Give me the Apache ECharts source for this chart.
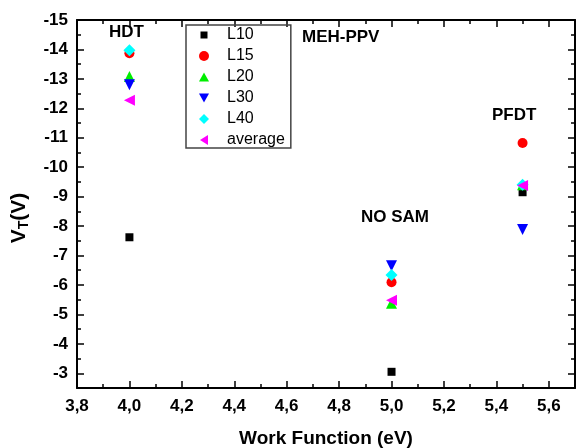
<!DOCTYPE html>
<html><head><meta charset="utf-8">
<script src="https://cdn.jsdelivr.net/npm/echarts@6/dist/echarts.min.js"></script>
<style>html,body{margin:0;padding:0;background:#fff}#c{width:576px;height:448px}</style>
</head><body><div id="c"></div>
<script>
const xValues = [4.0, 5.0, 5.5];
const seriesNames = ['L10', 'L15', 'L20', 'L30', 'L40', 'average'];
const L10 = [-7.62, -3.05, -9.15];
const L15 = [-13.87, -6.09, -10.82];
const L20 = [-13.08, -5.38, -9.4];
const L30 = [-12.8, -6.65, -7.88];
const L40 = [-13.97, -6.34, -9.4];
const average = [-12.27, -5.48, -9.38];
const groupLabels = ['HDT', 'NO SAM', 'PFDT', 'MEH-PPV'];

const values = [L10, L15, L20, L30, L40, average];
const styles = [
  {symbol: 'rect', size: 8, rot: 0, color: '#000000', icon: 'path://M0,0M10,10M1.5,1.5L8.5,1.5L8.5,8.5L1.5,8.5Z'},
  {symbol: 'circle', size: 10, rot: 0, color: '#ff0000', icon: 'circle'},
  {symbol: 'triangle', size: 11, rot: 0, color: '#00ee00', icon: 'path://M0,0M10,10M5,0.5L10,9.5L0,9.5Z'},
  {symbol: 'triangle', size: 11, rot: 180, color: '#0000ff', icon: 'path://M0,0M10,10M0,0.5L10,0.5L5,9.5Z'},
  {symbol: 'diamond', size: 12, rot: 0, color: '#00ffff', icon: 'diamond'},
  {symbol: 'triangle', size: 11, rot: 90, color: '#ff00ff', icon: 'path://M0,0M10,10M9,0L9,10L1,5Z'}
];
const font = 'Liberation Sans, Arial, sans-serif';
const chart = echarts.init(document.getElementById('c'));
const axisBase = {
  axisLine: {show: true, lineStyle: {color: '#000', width: 2}},
  axisTick: {show: true, inside: true, length: 7, lineStyle: {color: '#000', width: 1.5}},
  minorTick: {show: true, splitNumber: 2, length: 4, lineStyle: {color: '#000', width: 1.5}},
  splitLine: {show: false}
};
const textFont = 'bold 17px ' + font;
chart.setOption({
  animation: false,
  textStyle: {fontFamily: font},
  grid: {left: 77, right: 1, top: 20, bottom: 60, outerBoundsMode: 'none', containLabel: false},
  legend: {
    orient: 'vertical', left: 186, top: 25,
    data: seriesNames.map((n, i) => ({name: n, icon: styles[i].icon})),
    itemWidth: 10, itemHeight: 10, itemGap: 5,
    padding: [2, 6, 0, 13],
    borderColor: '#444', borderWidth: 1.5,
    textStyle: {fontSize: 16, color: '#000', fontFamily: font, padding: [0, 0, 0, 13]}
  },
  xAxis: [Object.assign({}, axisBase, {
    type: 'value', min: 3.8, max: 5.7, interval: 0.2,
    name: 'Work Function (eV)', nameLocation: 'middle', nameGap: 41,
    nameTextStyle: {fontSize: 19, fontWeight: 'bold', color: '#000'},
    axisLabel: {fontSize: 17, fontWeight: 'bold', color: '#000', margin: 10, showMaxLabel: false,
      formatter: v => v.toFixed(1).replace('.', ',')}
  }), Object.assign({}, axisBase, {
    type: 'value', min: 3.8, max: 5.7, interval: 0.2, position: 'top',
    axisLabel: {show: false}
  })],
  yAxis: [Object.assign({}, axisBase, {
    type: 'value', min: -15, max: -2.5, interval: 1, inverse: true,
    name: '{v|V}{s|T}{v|(V)}', nameLocation: 'middle', nameGap: 46, nameRotate: 90,
    nameTextStyle: {padding: [0, 28, 0, 0], rich: {
      v: {fontSize: 21, fontWeight: 'bold', color: '#000', fontFamily: font},
      s: {fontSize: 14, fontWeight: 'bold', color: '#000', fontFamily: font, verticalAlign: 'bottom', padding: [10, 0, 0, 0]}
    }},
    axisLabel: {fontSize: 17, fontWeight: 'bold', color: '#000', margin: 9, showMaxLabel: false,
      formatter: v => Number.isInteger(v) ? String(v) : ''}
  }), Object.assign({}, axisBase, {
    type: 'value', min: -15, max: -2.5, interval: 1, inverse: true, position: 'right',
    axisLabel: {show: false}
  })],
  graphic: [
    {type: 'text', left: 109, top: 24, style: {text: groupLabels[0], font: textFont, fill: '#000'}},
    {type: 'text', left: 361, top: 209, style: {text: groupLabels[1], font: textFont, fill: '#000'}},
    {type: 'text', left: 492, top: 107, style: {text: groupLabels[2], font: textFont, fill: '#000'}},
    {type: 'text', left: 302, top: 29, style: {text: groupLabels[3], font: textFont, fill: '#000'}}
  ],
  series: seriesNames.map((n, i) => ({
    name: n, type: 'scatter',
    data: xValues.map((x, j) => [x, values[i][j]]),
    symbol: styles[i].symbol, symbolSize: styles[i].size, symbolRotate: styles[i].rot,
    itemStyle: {color: styles[i].color, opacity: 1}
  }))
});
</script></body></html>
